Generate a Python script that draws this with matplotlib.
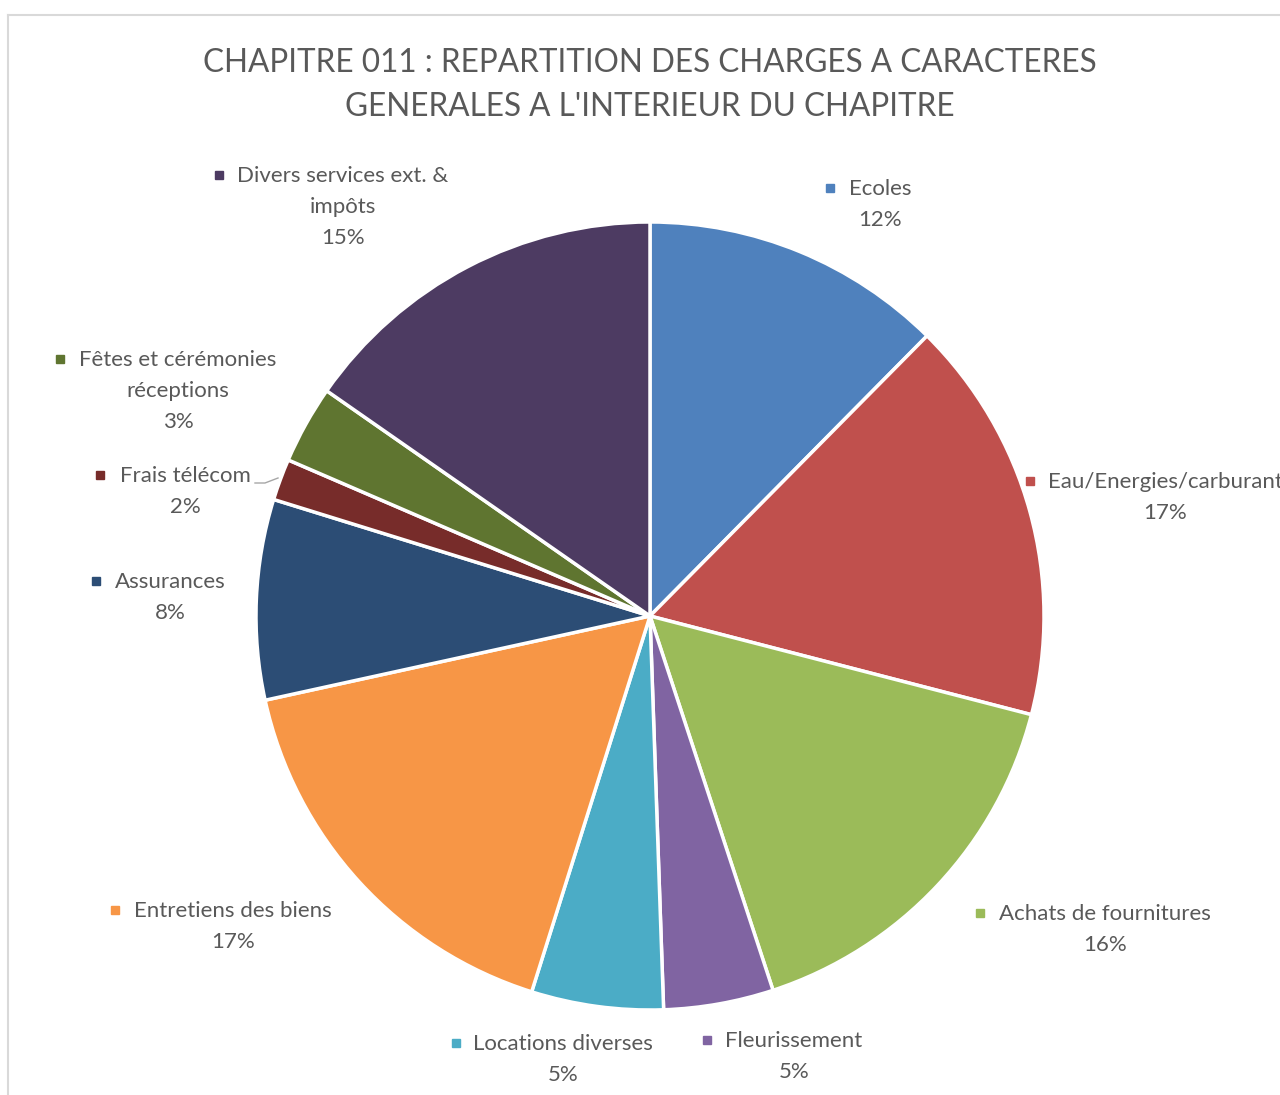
import matplotlib
matplotlib.use("Agg")
import matplotlib.pyplot as plt
from matplotlib.patches import Rectangle
from matplotlib.lines import Line2D

# figure size in pixels
W = 1280
H = 1095

title = "CHAPITRE 011 : REPARTITION DES CHARGES A CARACTERES\nGENERALES A L'INTERIEUR DU CHAPITRE"

categories = ["Ecoles", "Eau/Energies/carburant", "Achats de fournitures",
              "Fleurissement", "Locations diverses", "Entretiens des biens",
              "Assurances", "Frais télécom", "Fêtes et cérémonies\nréceptions",
              "Divers services ext. &\nimpôts"]
# shares
values = [12.4, 16.6, 15.9, 4.5, 5.4, 16.7, 8.2, 1.7, 3.2, 15.3]
# percentages as printed in the labels
pct_labels = ["12%", "17%", "16%", "5%", "5%", "17%", "8%", "2%", "3%", "15%"]

colors = ["#4F81BD", "#C0504D", "#9BBB59", "#8064A2", "#4BACC6",
          "#F79646", "#2C4D75", "#772C2A", "#5F7530", "#4D3B62"]

# label layout: (text centre x, first line y, marker x) in pixels
label_pos = [(880, 188, 830), (1165, 481, 1030), (1105, 913, 980),
             (794, 1040, 707), (563, 1043, 456), (233, 910, 115),
             (170, 581, 96), (185, 475, 100), (178, 359, 60),
             (343, 175, 219)]

TXT = "#595959"
FONT = "Lato"


def px(x, y):
    return x / W, 1 - y / H


fig = plt.figure(figsize=(W / 100, H / 100), dpi=100)

# chart frame
fig.add_artist(Line2D([8 / W, 1], [1 - 15 / H, 1 - 15 / H], color="#D9D9D9", lw=1.5))
fig.add_artist(Line2D([8 / W, 8 / W], [0, 1 - 15 / H], color="#D9D9D9", lw=1.5))

cx, cy, r = 650, 616, 394
ax = fig.add_axes([(cx - r) / W, (H - cy - r) / H, 2 * r / W, 2 * r / H])
ax.pie(values, colors=colors, startangle=90, counterclock=False, radius=1,
       wedgeprops=dict(edgecolor="white", linewidth=2.5))
ax.set_xlim(-1, 1)
ax.set_ylim(-1, 1)
ax.set_aspect("auto")
ax.axis("off")

fig.text(*px(650, 48), title, ha="center", va="top", fontsize=22.7,
         color=TXT, family=FONT, linespacing=1.6)

for cat, pct, col, (tx, ty, mx) in zip(categories, pct_labels, colors, label_pos):
    fig.text(*px(tx, ty - 9), cat + "\n" + pct, ha="center", va="top",
             fontsize=16, color=TXT, family=FONT, linespacing=1.7)
    fig.add_artist(Rectangle(px(mx - 4, ty + 4), 8 / W, 8 / H, color=col,
                             transform=fig.transFigure))

# leader line for the small slice
fig.add_artist(Line2D([255 / W, 265 / W, 278 / W],
                      [1 - 483 / H, 1 - 483 / H, 1 - 478 / H],
                      color="#A6A6A6", lw=1))

fig.savefig("out.png", dpi=100)
